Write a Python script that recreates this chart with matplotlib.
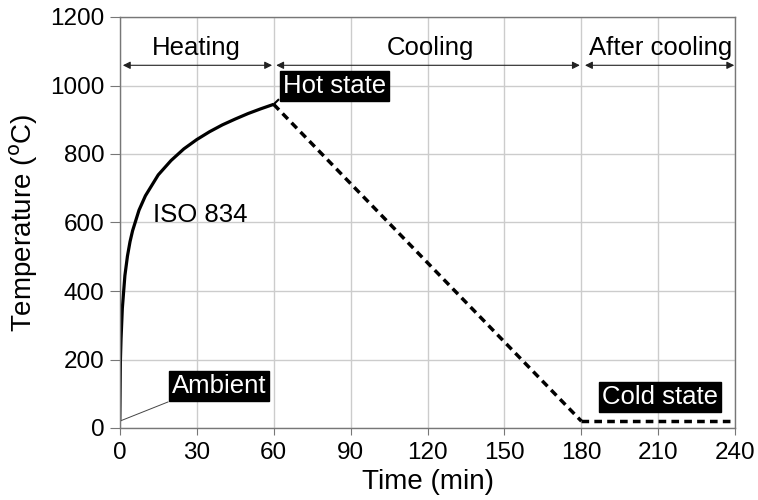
import matplotlib
matplotlib.use("Agg")
import matplotlib.pyplot as plt

plt.rcParams['font.family'] = ['Liberation Sans', 'DejaVu Sans']

# Heating curve (ISO 834)
heat_t = [0, 0.25, 0.5, 1, 2, 3, 4, 5, 7.5, 10, 15, 20, 25, 30, 35, 40, 45, 50, 55, 60]
heat_T = [20, 197, 261, 349, 445, 502, 544, 576, 636, 678, 739, 781, 815, 842, 865, 885, 902, 918, 932, 945]

# Cooling and after cooling
cool_t = [60, 180]
cool_T = [945, 20]
after_t = [180, 240]
after_T = [20, 20]

phases = ["Heating", "Cooling", "After cooling"]
phase_start = [1.2, 61, 181.4]
phase_end = [59.4, 179.4, 239.6]
phase_text_x = [30, 121, 211]

xticks = [0, 30, 60, 90, 120, 150, 180, 210, 240]
yticks = [0, 200, 400, 600, 800, 1000, 1200]

fig = plt.figure(figsize=(7.58, 5.0), dpi=100)
ax = fig.add_axes([0.158, 0.144, 0.812, 0.822])

ax.plot(heat_t, heat_T, color='black', lw=2.3, solid_capstyle='butt')
ax.plot(cool_t, cool_T, color='black', lw=2.5, ls=(0, (2.2, 1.5)))
ax.plot(after_t, after_T, color='black', lw=2.5, ls=(0, (2.2, 1.5)))

ax.set_xlim(0, 240)
ax.set_ylim(0, 1200)
ax.set_xticks(xticks)
ax.set_yticks(yticks)
ax.tick_params(axis='both', labelsize=17.5, color='#777777', direction='out')
ax.tick_params(axis='y', length=7, pad=4)
ax.tick_params(axis='x', length=5, pad=5)
ax.grid(True, color='#cccccc', lw=1)
ax.set_axisbelow(True)
for s in ax.spines.values():
    s.set_color('#777777')
    s.set_linewidth(1)

ax.set_xlabel('Time (min)', fontsize=20, labelpad=4)
ax.set_ylabel('Temperature ($^{\\mathrm{o}}$C)', fontsize=20, labelpad=7)

arrow_y = 1059
for name, a, b, tx in zip(phases, phase_start, phase_end, phase_text_x):
    ax.annotate('', xy=(b, arrow_y), xytext=(a, arrow_y),
                arrowprops=dict(arrowstyle='<|-|>', color='#222222', lw=0.8,
                                mutation_scale=11, shrinkA=0, shrinkB=0),
                annotation_clip=False)
    ax.text(tx, 1109, name, fontsize=18.5, ha='center', va='center', clip_on=False)

box = dict(boxstyle='square,pad=0.12', fc='black', ec='black')
ax.text(63.5, 998, 'Hot state', fontsize=18.5, color='white', ha='left', va='center', bbox=box)
ax.text(20.3, 123, 'Ambient', fontsize=18.5, color='white', ha='left', va='center', bbox=box)
ax.text(188, 90, 'Cold state', fontsize=18.5, color='white', ha='left', va='center', bbox=box)
ax.text(12.8, 622, 'ISO 834', fontsize=18.5, ha='left', va='center')

ax.plot([heat_t[0], 18.8], [heat_T[0], 76], color='#444444', lw=0.7)
ax.plot([heat_t[-1], 61.8], [heat_T[-1], 958], color='black', lw=1.5)

fig.savefig('out.png', dpi=100)
